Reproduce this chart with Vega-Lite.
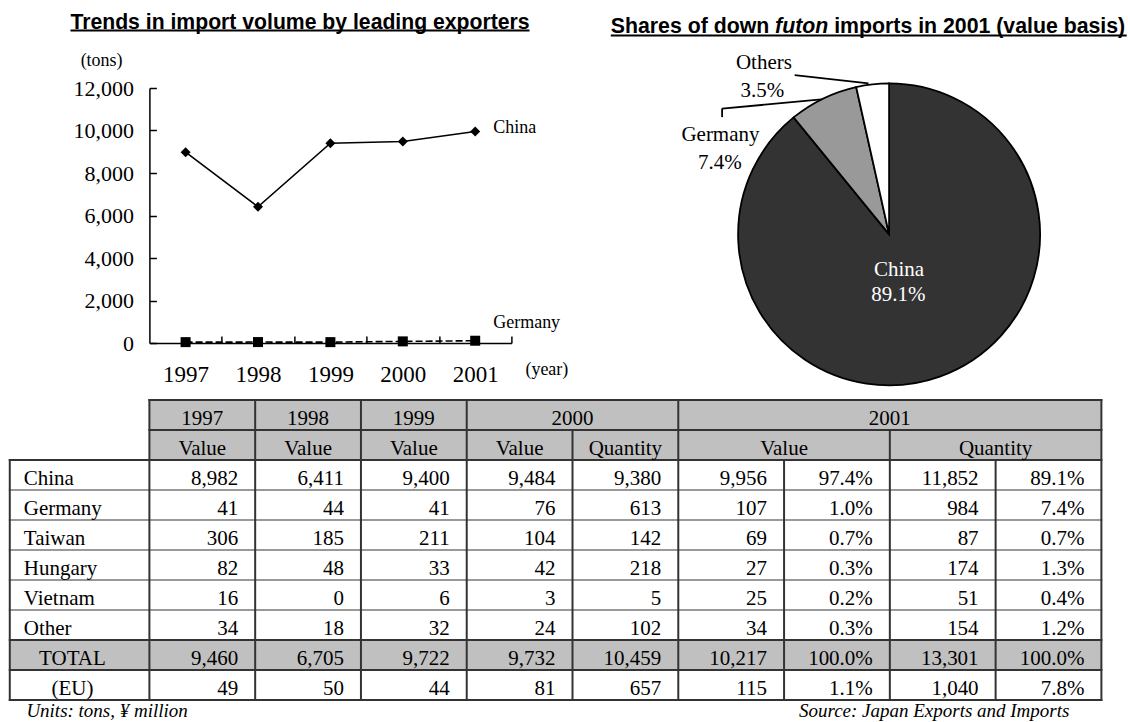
{
  "$schema": "https://vega.github.io/schema/vega-lite/v6.json",
  "background": "white",
  "padding": {"left": 7.4, "top": 11, "right": 0, "bottom": 0},
  "bounds": "flush",
  "spacing": 312,
  "config": {
    "view": {"stroke": null},
    "font": "Liberation Serif",
    "text": {"font": "Liberation Serif", "color": "#000000"},
    "axis": {"domainColor": "#000000", "tickColor": "#000000", "labelColor": "#000000", "grid": false,
      "domainWidth": 1.5, "tickWidth": 1.5, "tickSize": -7, "labelFont": "Liberation Serif",
      "labelFlush": false, "labelOverlap": false},
    "axisX": {"tickOffset": 36.2, "labelOffset": -36.2, "labelFontSize": 23, "labelPadding": 28},
    "axisY": {"labelFontSize": 22, "labelPadding": 23}
  },
  "datasets": {
    "trend": [
      {"year": 1997, "country": "China", "tons": 8982},
      {"year": 1998, "country": "China", "tons": 6411},
      {"year": 1999, "country": "China", "tons": 9400},
      {"year": 2000, "country": "China", "tons": 9484},
      {"year": 2001, "country": "China", "tons": 9956},
      {"year": 1997, "country": "Germany", "tons": 41},
      {"year": 1998, "country": "Germany", "tons": 44},
      {"year": 1999, "country": "Germany", "tons": 41},
      {"year": 2000, "country": "Germany", "tons": 76},
      {"year": 2001, "country": "Germany", "tons": 107}
    ],
    "share": [
      {"country": "China", "share": 0.891},
      {"country": "Germany", "share": 0.074},
      {"country": "Others", "share": 0.035}
    ],
    "notes": [
      {"id": "lineTitle", "text": "Trends in import volume by leading exporters"},
      {"id": "tons", "text": "(tons)"},
      {"id": "year", "text": "(year)"},
      {"id": "pieTitle1", "text": "Shares of down"},
      {"id": "pieTitle2", "text": "futon"},
      {"id": "pieTitle3", "text": "imports in 2001 (value basis)"},
      {"id": "units", "text": "Units: tons, ¥ million"},
      {"id": "source", "text": "Source: Japan Exports and Imports"}
    ],
    "headers": [
      {"r": 0, "x": 0.5, "label": "1997"},
      {"r": 0, "x": 1.5, "label": "1998"},
      {"r": 0, "x": 2.5, "label": "1999"},
      {"r": 0, "x": 4, "label": "2000"},
      {"r": 0, "x": 7, "label": "2001"},
      {"r": 1, "x": 0.5, "label": "Value"},
      {"r": 1, "x": 1.5, "label": "Value"},
      {"r": 1, "x": 2.5, "label": "Value"},
      {"r": 1, "x": 3.5, "label": "Value"},
      {"r": 1, "x": 4.5, "label": "Quantity"},
      {"r": 1, "x": 6, "label": "Value"},
      {"r": 1, "x": 8, "label": "Quantity"}
    ],
    "rowlabels": [
      {"r": 2, "country": "China"},
      {"r": 3, "country": "Germany"},
      {"r": 4, "country": "Taiwan"},
      {"r": 5, "country": "Hungary"},
      {"r": 6, "country": "Vietnam"},
      {"r": 7, "country": "Other"},
      {"r": 8, "country": "TOTAL"},
      {"r": 9, "country": "(EU)"}
    ],
    "table": [
      {"country": "China", "r": 2, "col": 1, "kind": "v", "value": 8982},
      {"country": "China", "r": 2, "col": 2, "kind": "v", "value": 6411},
      {"country": "China", "r": 2, "col": 3, "kind": "v", "value": 9400},
      {"country": "China", "r": 2, "col": 4, "kind": "v", "value": 9484},
      {"country": "China", "r": 2, "col": 5, "kind": "v", "value": 9380},
      {"country": "China", "r": 2, "col": 6, "kind": "v", "value": 9956},
      {"country": "China", "r": 2, "col": 7, "kind": "s", "value": 0.974},
      {"country": "China", "r": 2, "col": 8, "kind": "v", "value": 11852},
      {"country": "China", "r": 2, "col": 9, "kind": "s", "value": 0.891},
      {"country": "Germany", "r": 3, "col": 1, "kind": "v", "value": 41},
      {"country": "Germany", "r": 3, "col": 2, "kind": "v", "value": 44},
      {"country": "Germany", "r": 3, "col": 3, "kind": "v", "value": 41},
      {"country": "Germany", "r": 3, "col": 4, "kind": "v", "value": 76},
      {"country": "Germany", "r": 3, "col": 5, "kind": "v", "value": 613},
      {"country": "Germany", "r": 3, "col": 6, "kind": "v", "value": 107},
      {"country": "Germany", "r": 3, "col": 7, "kind": "s", "value": 0.010},
      {"country": "Germany", "r": 3, "col": 8, "kind": "v", "value": 984},
      {"country": "Germany", "r": 3, "col": 9, "kind": "s", "value": 0.074},
      {"country": "Taiwan", "r": 4, "col": 1, "kind": "v", "value": 306},
      {"country": "Taiwan", "r": 4, "col": 2, "kind": "v", "value": 185},
      {"country": "Taiwan", "r": 4, "col": 3, "kind": "v", "value": 211},
      {"country": "Taiwan", "r": 4, "col": 4, "kind": "v", "value": 104},
      {"country": "Taiwan", "r": 4, "col": 5, "kind": "v", "value": 142},
      {"country": "Taiwan", "r": 4, "col": 6, "kind": "v", "value": 69},
      {"country": "Taiwan", "r": 4, "col": 7, "kind": "s", "value": 0.007},
      {"country": "Taiwan", "r": 4, "col": 8, "kind": "v", "value": 87},
      {"country": "Taiwan", "r": 4, "col": 9, "kind": "s", "value": 0.007},
      {"country": "Hungary", "r": 5, "col": 1, "kind": "v", "value": 82},
      {"country": "Hungary", "r": 5, "col": 2, "kind": "v", "value": 48},
      {"country": "Hungary", "r": 5, "col": 3, "kind": "v", "value": 33},
      {"country": "Hungary", "r": 5, "col": 4, "kind": "v", "value": 42},
      {"country": "Hungary", "r": 5, "col": 5, "kind": "v", "value": 218},
      {"country": "Hungary", "r": 5, "col": 6, "kind": "v", "value": 27},
      {"country": "Hungary", "r": 5, "col": 7, "kind": "s", "value": 0.003},
      {"country": "Hungary", "r": 5, "col": 8, "kind": "v", "value": 174},
      {"country": "Hungary", "r": 5, "col": 9, "kind": "s", "value": 0.013},
      {"country": "Vietnam", "r": 6, "col": 1, "kind": "v", "value": 16},
      {"country": "Vietnam", "r": 6, "col": 2, "kind": "v", "value": 0},
      {"country": "Vietnam", "r": 6, "col": 3, "kind": "v", "value": 6},
      {"country": "Vietnam", "r": 6, "col": 4, "kind": "v", "value": 3},
      {"country": "Vietnam", "r": 6, "col": 5, "kind": "v", "value": 5},
      {"country": "Vietnam", "r": 6, "col": 6, "kind": "v", "value": 25},
      {"country": "Vietnam", "r": 6, "col": 7, "kind": "s", "value": 0.002},
      {"country": "Vietnam", "r": 6, "col": 8, "kind": "v", "value": 51},
      {"country": "Vietnam", "r": 6, "col": 9, "kind": "s", "value": 0.004},
      {"country": "Other", "r": 7, "col": 1, "kind": "v", "value": 34},
      {"country": "Other", "r": 7, "col": 2, "kind": "v", "value": 18},
      {"country": "Other", "r": 7, "col": 3, "kind": "v", "value": 32},
      {"country": "Other", "r": 7, "col": 4, "kind": "v", "value": 24},
      {"country": "Other", "r": 7, "col": 5, "kind": "v", "value": 102},
      {"country": "Other", "r": 7, "col": 6, "kind": "v", "value": 34},
      {"country": "Other", "r": 7, "col": 7, "kind": "s", "value": 0.003},
      {"country": "Other", "r": 7, "col": 8, "kind": "v", "value": 154},
      {"country": "Other", "r": 7, "col": 9, "kind": "s", "value": 0.012},
      {"country": "TOTAL", "r": 8, "col": 1, "kind": "v", "value": 9460},
      {"country": "TOTAL", "r": 8, "col": 2, "kind": "v", "value": 6705},
      {"country": "TOTAL", "r": 8, "col": 3, "kind": "v", "value": 9722},
      {"country": "TOTAL", "r": 8, "col": 4, "kind": "v", "value": 9732},
      {"country": "TOTAL", "r": 8, "col": 5, "kind": "v", "value": 10459},
      {"country": "TOTAL", "r": 8, "col": 6, "kind": "v", "value": 10217},
      {"country": "TOTAL", "r": 8, "col": 7, "kind": "s", "value": 1.0},
      {"country": "TOTAL", "r": 8, "col": 8, "kind": "v", "value": 13301},
      {"country": "TOTAL", "r": 8, "col": 9, "kind": "s", "value": 1.0},
      {"country": "(EU)", "r": 9, "col": 1, "kind": "v", "value": 49},
      {"country": "(EU)", "r": 9, "col": 2, "kind": "v", "value": 50},
      {"country": "(EU)", "r": 9, "col": 3, "kind": "v", "value": 44},
      {"country": "(EU)", "r": 9, "col": 4, "kind": "v", "value": 81},
      {"country": "(EU)", "r": 9, "col": 5, "kind": "v", "value": 657},
      {"country": "(EU)", "r": 9, "col": 6, "kind": "v", "value": 115},
      {"country": "(EU)", "r": 9, "col": 7, "kind": "s", "value": 0.011},
      {"country": "(EU)", "r": 9, "col": 8, "kind": "v", "value": 1040},
      {"country": "(EU)", "r": 9, "col": 9, "kind": "s", "value": 0.078}
    ],
    "grid": [
      {"x": -1.32, "x2": 9, "y": 2.5, "y2": 2.5, "tone": "light"},
      {"x": -1.32, "x2": 9, "y": 3.5, "y2": 3.5, "tone": "light"},
      {"x": -1.32, "x2": 9, "y": 4.5, "y2": 4.5, "tone": "light"},
      {"x": -1.32, "x2": 9, "y": 5.5, "y2": 5.5, "tone": "light"},
      {"x": -1.32, "x2": 9, "y": 6.5, "y2": 6.5, "tone": "light"},
      {"x": 0, "x2": 9, "y": -0.5, "y2": -0.5, "tone": "dark"},
      {"x": 0, "x2": 9, "y": 0.5, "y2": 0.5, "tone": "dark"},
      {"x": -1.32, "x2": 9, "y": 1.5, "y2": 1.5, "tone": "dark"},
      {"x": -1.32, "x2": 9, "y": 7.5, "y2": 7.5, "tone": "dark"},
      {"x": -1.32, "x2": 9, "y": 8.5, "y2": 8.5, "tone": "dark"},
      {"x": -1.32, "x2": 9, "y": 9.5, "y2": 9.5, "tone": "dark"},
      {"x": -1.32, "x2": -1.32, "y": 1.5, "y2": 9.5, "tone": "dark"},
      {"x": 0, "x2": 0, "y": -0.5, "y2": 9.5, "tone": "dark"},
      {"x": 1, "x2": 1, "y": -0.5, "y2": 9.5, "tone": "dark"},
      {"x": 2, "x2": 2, "y": -0.5, "y2": 9.5, "tone": "dark"},
      {"x": 3, "x2": 3, "y": -0.5, "y2": 9.5, "tone": "dark"},
      {"x": 4, "x2": 4, "y": 0.5, "y2": 9.5, "tone": "dark"},
      {"x": 5, "x2": 5, "y": -0.5, "y2": 9.5, "tone": "dark"},
      {"x": 6, "x2": 6, "y": 1.5, "y2": 9.5, "tone": "dark"},
      {"x": 7, "x2": 7, "y": 0.5, "y2": 9.5, "tone": "dark"},
      {"x": 8, "x2": 8, "y": 1.5, "y2": 9.5, "tone": "dark"},
      {"x": 9, "x2": 9, "y": -0.5, "y2": 9.5, "tone": "dark"}
    ]
  },
  "vconcat": [
    {
      "bounds": "flush",
      "spacing": 76,
      "hconcat": [
        {
          "width": 362,
          "height": 255,
          "data": {"name": "trend"},
          "layer": [
            {
              "transform": [{"filter": "datum.country === 'China'"}],
              "mark": {"type": "line", "color": "#000000", "strokeWidth": 1.6},
              "encoding": {
                "x": {"field": "year", "type": "quantitative",
                  "scale": {"domain": [1996.5, 2001.5], "nice": false, "zero": false},
                  "axis": {"values": [1997, 1998, 1999, 2000, 2001], "format": "d", "title": null}},
                "y": {"field": "tons", "type": "quantitative",
                  "scale": {"domain": [0, 12000], "nice": false, "zero": true},
                  "axis": {"values": [0, 2000, 4000, 6000, 8000, 10000, 12000], "format": ",d", "title": null}}
              }
            },
            {
              "transform": [{"filter": "datum.country === 'Germany'"}],
              "mark": {"type": "line", "color": "#000000", "strokeWidth": 1.6, "strokeDash": [7, 3]},
              "encoding": {
                "x": {"field": "year", "type": "quantitative"},
                "y": {"field": "tons", "type": "quantitative"}
              }
            },
            {
              "transform": [{"filter": "datum.country === 'China'"}],
              "mark": {"type": "point", "shape": "diamond", "filled": true, "color": "#000000", "size": 100, "opacity": 1},
              "encoding": {
                "x": {"field": "year", "type": "quantitative"},
                "y": {"field": "tons", "type": "quantitative"}
              }
            },
            {
              "transform": [{"filter": "datum.country === 'Germany'"}],
              "mark": {"type": "point", "shape": "square", "filled": true, "color": "#000000", "size": 100, "opacity": 1},
              "encoding": {
                "x": {"field": "year", "type": "quantitative"},
                "y": {"field": "tons", "type": "quantitative"}
              }
            },
            {
              "transform": [{"filter": "datum.country === 'China' && datum.year === 2001"}],
              "mark": {"type": "text", "align": "left", "baseline": "middle", "dx": 18, "dy": -3, "fontSize": 18, "font": "Liberation Serif"},
              "encoding": {
                "x": {"field": "year", "type": "quantitative"},
                "y": {"field": "tons", "type": "quantitative"},
                "text": {"field": "country"}
              }
            },
            {
              "transform": [{"filter": "datum.country === 'Germany' && datum.year === 2001"}],
              "mark": {"type": "text", "align": "left", "baseline": "middle", "dx": 18, "dy": -17.5, "fontSize": 18, "font": "Liberation Serif"},
              "encoding": {
                "x": {"field": "year", "type": "quantitative"},
                "y": {"field": "tons", "type": "quantitative"},
                "text": {"field": "country"}
              }
            },
            {
              "data": {"name": "notes"},
              "transform": [{"filter": "datum.id === 'lineTitle'"}],
              "mark": {"type": "text", "align": "center", "baseline": "alphabetic", "font": "Liberation Sans", "fontWeight": "bold", "fontSize": 21.2},
              "encoding": {
                "x": {"datum": 1998.58, "type": "quantitative"},
                "y": {"datum": 14780, "type": "quantitative"},
                "text": {"field": "text"}
              }
            },
            {
              "data": {"name": "notes"},
              "transform": [{"filter": "datum.id === 'lineTitle'"}],
              "mark": {"type": "rule", "color": "#000000", "strokeWidth": 2},
              "encoding": {
                "x": {"datum": 1995.41, "type": "quantitative"},
                "x2": {"datum": 2001.75},
                "y": {"datum": 14705, "type": "quantitative"}
              }
            },
            {
              "data": {"name": "notes"},
              "transform": [{"filter": "datum.id === 'tons'"}],
              "mark": {"type": "text", "align": "center", "baseline": "middle", "fontSize": 18, "font": "Liberation Serif"},
              "encoding": {
                "x": {"datum": 1995.84, "type": "quantitative"},
                "y": {"datum": 13285, "type": "quantitative"},
                "text": {"field": "text"}
              }
            },
            {
              "data": {"name": "notes"},
              "transform": [{"filter": "datum.id === 'year'"}],
              "mark": {"type": "text", "align": "center", "baseline": "middle", "fontSize": 18, "font": "Liberation Serif"},
              "encoding": {
                "x": {"datum": 2001.99, "type": "quantitative"},
                "y": {"datum": -1256, "type": "quantitative"},
                "text": {"field": "text"}
              }
            }
          ]
        },
        {
          "width": 528,
          "height": 252,
          "layer": [
            {
              "data": {"name": "share"},
              "mark": {"type": "arc", "outerRadius": 151, "stroke": "#000000", "strokeWidth": 1.8},
              "encoding": {
                "theta": {"field": "share", "type": "quantitative", "stack": true},
                "order": {"field": "share", "sort": "descending"},
                "color": {"field": "country", "type": "nominal",
                  "scale": {"domain": ["China", "Germany", "Others"], "range": ["#333333", "#999999", "#ffffff"]}, "legend": null},
                "x": {"datum": 0, "type": "quantitative", "scale": {"domain": [-2, 1.5], "nice": false, "zero": false}, "axis": null},
                "y": {"datum": 0, "type": "quantitative", "scale": {"domain": [-0.7, 0.97], "nice": false, "zero": false}, "axis": null}
              }
            },
            {
              "data": {"name": "share"},
              "transform": [{"filter": "datum.country === 'China'"}],
              "mark": {"type": "text", "align": "center", "baseline": "middle", "fontSize": 21, "font": "Liberation Serif", "color": "#ffffff"},
              "encoding": {
                "x": {"datum": 0.066, "type": "quantitative", "axis": null},
                "y": {"datum": -0.233, "type": "quantitative", "axis": null},
                "text": {"field": "country"}
              }
            },
            {
              "data": {"name": "share"},
              "transform": [{"filter": "datum.country === 'China'"}],
              "mark": {"type": "text", "align": "center", "baseline": "middle", "fontSize": 21, "font": "Liberation Serif", "color": "#ffffff"},
              "encoding": {
                "x": {"datum": 0.062, "type": "quantitative", "axis": null},
                "y": {"datum": -0.405, "type": "quantitative", "axis": null},
                "text": {"field": "share", "format": ".1%"}
              }
            },
            {
              "data": {"name": "share"},
              "transform": [{"filter": "datum.country === 'Germany'"}],
              "mark": {"type": "text", "align": "center", "baseline": "middle", "fontSize": 21, "font": "Liberation Serif"},
              "encoding": {
                "x": {"datum": -1.118, "type": "quantitative", "axis": null},
                "y": {"datum": 0.659, "type": "quantitative", "axis": null},
                "text": {"field": "country"}
              }
            },
            {
              "data": {"name": "share"},
              "transform": [{"filter": "datum.country === 'Germany'"}],
              "mark": {"type": "text", "align": "center", "baseline": "middle", "fontSize": 21, "font": "Liberation Serif"},
              "encoding": {
                "x": {"datum": -1.122, "type": "quantitative", "axis": null},
                "y": {"datum": 0.471, "type": "quantitative", "axis": null},
                "text": {"field": "share", "format": ".1%"}
              }
            },
            {
              "data": {"name": "share"},
              "transform": [{"filter": "datum.country === 'Others'"}],
              "mark": {"type": "text", "align": "center", "baseline": "middle", "fontSize": 21, "font": "Liberation Serif"},
              "encoding": {
                "x": {"datum": -0.830, "type": "quantitative", "axis": null},
                "y": {"datum": 1.1325, "type": "quantitative", "axis": null},
                "text": {"field": "country"}
              }
            },
            {
              "data": {"name": "share"},
              "transform": [{"filter": "datum.country === 'Others'"}],
              "mark": {"type": "text", "align": "center", "baseline": "middle", "fontSize": 21, "font": "Liberation Serif"},
              "encoding": {
                "x": {"datum": -0.840, "type": "quantitative", "axis": null},
                "y": {"datum": 0.947, "type": "quantitative", "axis": null},
                "text": {"field": "share", "format": ".1%"}
              }
            },
            {
              "data": {"name": "share"},
              "transform": [{"filter": "datum.country === 'Germany'"}],
              "mark": {"type": "rule", "color": "#000000", "strokeWidth": 1.8},
              "encoding": {
                "x": {"datum": -1.107, "type": "quantitative", "axis": null},
                "y": {"datum": 0.777, "type": "quantitative", "axis": null},
                "y2": {"datum": 0.835}
              }
            },
            {
              "data": {"name": "share"},
              "transform": [{"filter": "datum.country === 'Germany'"}],
              "mark": {"type": "rule", "color": "#000000", "strokeWidth": 1.8},
              "encoding": {
                "x": {"datum": -1.107, "type": "quantitative", "axis": null},
                "x2": {"datum": -0.449},
                "y": {"datum": 0.833, "type": "quantitative", "axis": null},
                "y2": {"datum": 0.895}
              }
            },
            {
              "data": {"name": "share"},
              "transform": [{"filter": "datum.country === 'Others'"}],
              "mark": {"type": "rule", "color": "#000000", "strokeWidth": 1.8},
              "encoding": {
                "x": {"datum": -0.626, "type": "quantitative", "axis": null},
                "x2": {"datum": -0.137},
                "y": {"datum": 1.056, "type": "quantitative", "axis": null},
                "y2": {"datum": 1.0}
              }
            },
            {
              "data": {"name": "notes"},
              "transform": [{"filter": "datum.id === 'pieTitle1'"}],
              "mark": {"type": "text", "align": "left", "baseline": "alphabetic", "font": "Liberation Sans", "fontWeight": "bold", "fontSize": 21.3},
              "encoding": {
                "x": {"datum": -1.845, "type": "quantitative", "axis": null},
                "y": {"datum": 1.335, "type": "quantitative", "axis": null},
                "text": {"field": "text"}
              }
            },
            {
              "data": {"name": "notes"},
              "transform": [{"filter": "datum.id === 'pieTitle2'"}],
              "mark": {"type": "text", "align": "left", "baseline": "alphabetic", "font": "Liberation Sans", "fontWeight": "bold", "fontStyle": "italic", "fontSize": 21.3},
              "encoding": {
                "x": {"datum": -0.756, "type": "quantitative", "axis": null},
                "y": {"datum": 1.335, "type": "quantitative", "axis": null},
                "text": {"field": "text"}
              }
            },
            {
              "data": {"name": "notes"},
              "transform": [{"filter": "datum.id === 'pieTitle3'"}],
              "mark": {"type": "text", "align": "left", "baseline": "alphabetic", "font": "Liberation Sans", "fontWeight": "bold", "fontSize": 21.3},
              "encoding": {
                "x": {"datum": -0.364, "type": "quantitative", "axis": null},
                "y": {"datum": 1.335, "type": "quantitative", "axis": null},
                "text": {"field": "text"}
              }
            },
            {
              "data": {"name": "notes"},
              "transform": [{"filter": "datum.id === 'pieTitle1'"}],
              "mark": {"type": "rule", "color": "#000000", "strokeWidth": 2},
              "encoding": {
                "x": {"datum": -1.845, "type": "quantitative", "axis": null},
                "x2": {"datum": 1.575},
                "y": {"datum": 1.318, "type": "quantitative", "axis": null}
              }
            }
          ]
        }
      ]
    },
    {
      "width": 952,
      "height": 300,
      "layer": [
        {
          "data": {"name": "headers"},
          "transform": [{"aggregate": [{"op": "count", "as": "cells"}]}],
          "mark": {"type": "rect", "color": "#c0c0c0"},
          "encoding": {
            "x": {"datum": 0, "type": "quantitative", "scale": {"domain": [0, 9], "nice": false, "zero": false}, "axis": null},
            "x2": {"datum": 9},
            "y": {"datum": -0.5, "type": "quantitative", "scale": {"domain": [-0.5, 9.5], "nice": false, "zero": false, "reverse": true}, "axis": null},
            "y2": {"datum": 1.5}
          }
        },
        {
          "data": {"name": "rowlabels"},
          "transform": [{"filter": "datum.country === 'TOTAL'"}],
          "mark": {"type": "rect", "color": "#c0c0c0"},
          "encoding": {
            "x": {"datum": -1.32, "type": "quantitative", "axis": null},
            "x2": {"datum": 9},
            "y": {"datum": 7.5, "type": "quantitative", "axis": null},
            "y2": {"datum": 8.5}
          }
        },
        {
          "data": {"name": "grid"},
          "mark": {"type": "rule", "strokeWidth": 2, "strokeCap": "square"},
          "encoding": {
            "x": {"field": "x", "type": "quantitative", "axis": null},
            "x2": {"field": "x2"},
            "y": {"field": "y", "type": "quantitative", "axis": null},
            "y2": {"field": "y2"},
            "color": {"field": "tone", "type": "nominal", "scale": {"domain": ["dark", "light"], "range": ["#000000", "#808080"]}, "legend": null}
          }
        },
        {
          "data": {"name": "headers"},
          "mark": {"type": "text", "align": "center", "baseline": "middle", "dy": 4, "fontSize": 21, "font": "Liberation Serif"},
          "encoding": {
            "x": {"field": "x", "type": "quantitative", "axis": null},
            "y": {"field": "r", "type": "quantitative", "axis": null},
            "text": {"field": "label"}
          }
        },
        {
          "data": {"name": "table"},
          "transform": [{"filter": "datum.kind === 'v'"}],
          "mark": {"type": "text", "align": "right", "baseline": "middle", "dx": -17, "dy": 4, "fontSize": 21, "font": "Liberation Serif"},
          "encoding": {
            "x": {"field": "col", "type": "quantitative", "axis": null},
            "y": {"field": "r", "type": "quantitative", "axis": null},
            "text": {"field": "value", "format": ","}
          }
        },
        {
          "data": {"name": "table"},
          "transform": [{"filter": "datum.kind === 's'"}],
          "mark": {"type": "text", "align": "right", "baseline": "middle", "dx": -17, "dy": 4, "fontSize": 21, "font": "Liberation Serif"},
          "encoding": {
            "x": {"field": "col", "type": "quantitative", "axis": null},
            "y": {"field": "r", "type": "quantitative", "axis": null},
            "text": {"field": "value", "format": ".1%"}
          }
        },
        {
          "data": {"name": "rowlabels"},
          "transform": [{"filter": "datum.r <= 7"}],
          "mark": {"type": "text", "align": "left", "baseline": "middle", "dx": 14, "dy": 4, "fontSize": 21, "font": "Liberation Serif"},
          "encoding": {
            "x": {"datum": -1.32, "type": "quantitative", "axis": null},
            "y": {"field": "r", "type": "quantitative", "axis": null},
            "text": {"field": "country"}
          }
        },
        {
          "data": {"name": "rowlabels"},
          "transform": [{"filter": "datum.r >= 8"}],
          "mark": {"type": "text", "align": "center", "baseline": "middle", "dy": 4, "fontSize": 21, "font": "Liberation Serif"},
          "encoding": {
            "x": {"datum": -0.728, "type": "quantitative", "axis": null},
            "y": {"field": "r", "type": "quantitative", "axis": null},
            "text": {"field": "country"}
          }
        },
        {
          "data": {"name": "notes"},
          "transform": [{"filter": "datum.id === 'units'"}],
          "mark": {"type": "text", "align": "left", "baseline": "alphabetic", "fontSize": 19, "fontStyle": "italic", "font": "Liberation Serif"},
          "encoding": {
            "x": {"datum": -1.163, "type": "quantitative", "axis": null},
            "y": {"datum": 10.057, "type": "quantitative", "axis": null},
            "text": {"field": "text"}
          }
        },
        {
          "data": {"name": "notes"},
          "transform": [{"filter": "datum.id === 'source'"}],
          "mark": {"type": "text", "align": "right", "baseline": "alphabetic", "fontSize": 19, "fontStyle": "italic", "font": "Liberation Serif"},
          "encoding": {
            "x": {"datum": 8.697, "type": "quantitative", "axis": null},
            "y": {"datum": 10.057, "type": "quantitative", "axis": null},
            "text": {"field": "text"}
          }
        }
      ]
    }
  ]
}
